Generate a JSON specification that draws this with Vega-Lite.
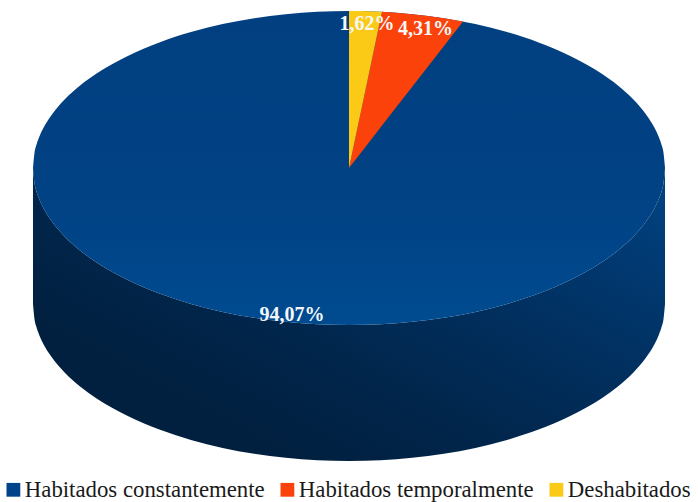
{"$schema":"https://vega.github.io/schema/vega-lite/v6.json","width":698,"height":502,"padding":0,"autosize":"none","background":"white","config":{"view":{"stroke":null}},
"datasets":{
"side":[{"x":-100,"y":0,"y2":-86.6},{"x":-99.5,"y":-9.99,"y2":-96.59},{"x":-99,"y":-14.1,"y2":-100.7},{"x":-98,"y":-19.9,"y2":-106.5},{"x":-96,"y":-28,"y2":-114.6},{"x":-94,"y":-34.1,"y2":-120.7},{"x":-92,"y":-39.2,"y2":-125.8},{"x":-90,"y":-43.6,"y2":-130.2},{"x":-85,"y":-52.7,"y2":-139.3},{"x":-80,"y":-60,"y2":-146.6},{"x":-75,"y":-66.1,"y2":-152.7},{"x":-70,"y":-71.4,"y2":-158},{"x":-60,"y":-80,"y2":-166.6},{"x":-50,"y":-86.6,"y2":-173.2},{"x":-40,"y":-91.7,"y2":-178.3},{"x":-30,"y":-95.4,"y2":-182},{"x":-20,"y":-98,"y2":-184.6},{"x":-10,"y":-99.5,"y2":-186.1},{"x":0,"y":-100,"y2":-186.6},{"x":10,"y":-99.5,"y2":-186.1},{"x":20,"y":-98,"y2":-184.6},{"x":30,"y":-95.4,"y2":-182},{"x":40,"y":-91.7,"y2":-178.3},{"x":50,"y":-86.6,"y2":-173.2},{"x":60,"y":-80,"y2":-166.6},{"x":70,"y":-71.4,"y2":-158},{"x":75,"y":-66.1,"y2":-152.7},{"x":80,"y":-60,"y2":-146.6},{"x":85,"y":-52.7,"y2":-139.3},{"x":90,"y":-43.6,"y2":-130.2},{"x":92,"y":-39.2,"y2":-125.8},{"x":94,"y":-34.1,"y2":-120.7},{"x":96,"y":-28,"y2":-114.6},{"x":98,"y":-19.9,"y2":-106.5},{"x":99,"y":-14.1,"y2":-100.7},{"x":99.5,"y":-9.99,"y2":-96.59},{"x":100,"y":0,"y2":-86.6}],
"top":[{"c":"Habitados constantemente","x":-100,"y":0,"y2":0},{"c":"Habitados constantemente","x":-99.5,"y":9.99,"y2":-9.99},{"c":"Habitados constantemente","x":-99,"y":14.1,"y2":-14.1},{"c":"Habitados constantemente","x":-98,"y":19.9,"y2":-19.9},{"c":"Habitados constantemente","x":-96,"y":28,"y2":-28},{"c":"Habitados constantemente","x":-94,"y":34.1,"y2":-34.1},{"c":"Habitados constantemente","x":-92,"y":39.2,"y2":-39.2},{"c":"Habitados constantemente","x":-90,"y":43.6,"y2":-43.6},{"c":"Habitados constantemente","x":-85,"y":52.7,"y2":-52.7},{"c":"Habitados constantemente","x":-80,"y":60,"y2":-60},{"c":"Habitados constantemente","x":-75,"y":66.1,"y2":-66.1},{"c":"Habitados constantemente","x":-70,"y":71.4,"y2":-71.4},{"c":"Habitados constantemente","x":-60,"y":80,"y2":-80},{"c":"Habitados constantemente","x":-50,"y":86.6,"y2":-86.6},{"c":"Habitados constantemente","x":-40,"y":91.7,"y2":-91.7},{"c":"Habitados constantemente","x":-30,"y":95.4,"y2":-95.4},{"c":"Habitados constantemente","x":-20,"y":98,"y2":-98},{"c":"Habitados constantemente","x":-10,"y":99.5,"y2":-99.5},{"c":"Habitados constantemente","x":0,"y":100,"y2":-100},{"c":"Habitados constantemente","x":10,"y":99.5,"y2":-99.5},{"c":"Habitados constantemente","x":20,"y":98,"y2":-98},{"c":"Habitados constantemente","x":30,"y":95.4,"y2":-95.4},{"c":"Habitados constantemente","x":40,"y":91.7,"y2":-91.7},{"c":"Habitados constantemente","x":50,"y":86.6,"y2":-86.6},{"c":"Habitados constantemente","x":60,"y":80,"y2":-80},{"c":"Habitados constantemente","x":70,"y":71.4,"y2":-71.4},{"c":"Habitados constantemente","x":75,"y":66.1,"y2":-66.1},{"c":"Habitados constantemente","x":80,"y":60,"y2":-60},{"c":"Habitados constantemente","x":85,"y":52.7,"y2":-52.7},{"c":"Habitados constantemente","x":90,"y":43.6,"y2":-43.6},{"c":"Habitados constantemente","x":92,"y":39.2,"y2":-39.2},{"c":"Habitados constantemente","x":94,"y":34.1,"y2":-34.1},{"c":"Habitados constantemente","x":96,"y":28,"y2":-28},{"c":"Habitados constantemente","x":98,"y":19.9,"y2":-19.9},{"c":"Habitados constantemente","x":99,"y":14.1,"y2":-14.1},{"c":"Habitados constantemente","x":99.5,"y":9.99,"y2":-9.99},{"c":"Habitados constantemente","x":100,"y":0,"y2":0}],
"wedges":[{"c":"Habitados temporalmente","x":0,"y":0,"y2":0},{"c":"Habitados temporalmente","x":5,"y":47.6,"y2":12.9},{"c":"Habitados temporalmente","x":10.44,"y":99.45,"y2":27},{"c":"Habitados temporalmente","x":15,"y":98.87,"y2":38.8},{"c":"Habitados temporalmente","x":20,"y":97.98,"y2":51.7},{"c":"Habitados temporalmente","x":25,"y":96.82,"y2":64.6},{"c":"Habitados temporalmente","x":30,"y":95.39,"y2":77.6},{"c":"Habitados temporalmente","x":36.08,"y":93.27,"y2":93.26},{"c":"Deshabitados","x":0,"y":100,"y2":0},{"c":"Deshabitados","x":2,"y":99.98,"y2":19.05},{"c":"Deshabitados","x":4,"y":99.92,"y2":38.1},{"c":"Deshabitados","x":6,"y":99.82,"y2":57.2},{"c":"Deshabitados","x":8,"y":99.68,"y2":76.2},{"c":"Deshabitados","x":10,"y":99.5,"y2":95.3},{"c":"Deshabitados","x":10.44,"y":99.45,"y2":99.45}],
"labels":[{"t":"94,07%","x":-18,"y":-93.5},{"t":"4,31%","x":24.2,"y":88.5},{"t":"1,62%","x":5.7,"y":92}]
},
"layer":[
{"data":{"name":"side"},"mark":{"type":"area","interpolate":"monotone","color":{"gradient":"linear","x1":0.2,"y1":0.8,"x2":1,"y2":0.1,"stops":[{"offset":0,"color":"#011f3e"},{"offset":0.3,"color":"#01264c"},{"offset":0.6,"color":"#013060"},{"offset":0.85,"color":"#013a73"},{"offset":1,"color":"#02427f"}]}},
"encoding":{"x":{"field":"x","type":"quantitative","scale":{"domain":[-110.44,110.44],"nice":false,"zero":false},"axis":null},"y":{"field":"y","type":"quantitative","stack":null,"scale":{"domain":[-212.74,107],"nice":false,"zero":false},"axis":null},"y2":{"field":"y2"}}},
{"data":{"name":"top"},"mark":{"type":"area","interpolate":"monotone","color":{"gradient":"linear","x1":0,"y1":0,"x2":0,"y2":1,"stops":[{"offset":0,"color":"#013f80"},{"offset":0.6,"color":"#014284"},{"offset":1,"color":"#004b90"}]}},
"encoding":{"x":{"field":"x","type":"quantitative","axis":null},"y":{"field":"y","type":"quantitative","stack":null,"axis":null},"y2":{"field":"y2"}}},
{"data":{"name":"wedges"},"mark":{"type":"area"},
"encoding":{"x":{"field":"x","type":"quantitative","axis":null},"y":{"field":"y","type":"quantitative","stack":null,"axis":null},"y2":{"field":"y2"},"color":{"field":"c","type":"nominal","scale":{"domain":["Habitados constantemente","Habitados temporalmente","Deshabitados"],"range":["#01438a","#fb420a","#fbca16"]},"legend":{"orient":"none","legendX":2,"legendY":478,"direction":"horizontal","columns":3,"title":null,"symbolType":"square","symbolSize":190,"symbolStrokeWidth":0,"symbolOpacity":1,"labelFont":"Liberation Serif","labelFontSize":22.8,"labelColor":"#1a1a1a","labelLimit":300,"labelOffset":0,"columnPadding":11,"padding":0}}}},
{"data":{"name":"labels"},"mark":{"type":"text","font":"Liberation Serif","fontWeight":"bold","fontSize":20,"color":"#f4f8fb"},
"encoding":{"x":{"field":"x","type":"quantitative","axis":null},"y":{"field":"y","type":"quantitative","axis":null},"text":{"field":"t"}}}
]}
